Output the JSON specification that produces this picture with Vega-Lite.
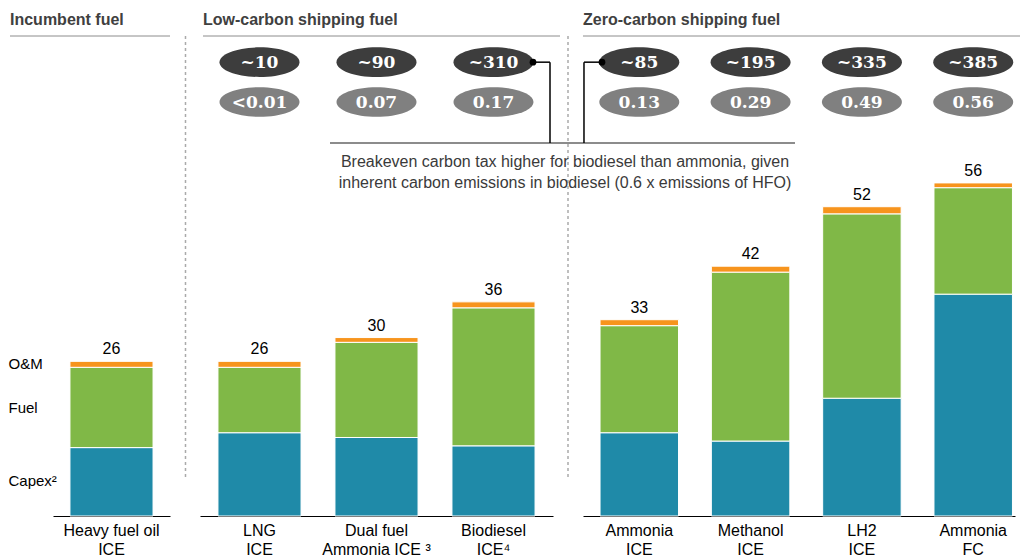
{
  "$schema": "https://vega.github.io/schema/vega-lite/v6.json",
  "padding": {"left": 8, "top": 12, "right": 0, "bottom": 0},
  "bounds": "flush",
  "spacing": 30,
  "config": {
    "view": {"stroke": null},
    "font": "Liberation Sans",
    "axisX": {"labelExpr": "split(datum.label, '\\n')", "labelAngle": 0, "ticks": false, "domainColor": "#000000", "domainWidth": 1, "labelFontSize": 16, "labelColor": "#000000", "labelPadding": 6, "labelLineHeight": 19, "labelBaseline": "top", "grid": false}
  },
  "datasets": {
    "costs": [
      {"group": "Incumbent", "cat": "Heavy fuel oil\nICE", "component": "Capex", "value": 11.5},
      {"group": "Incumbent", "cat": "Heavy fuel oil\nICE", "component": "Fuel", "value": 13.5},
      {"group": "Incumbent", "cat": "Heavy fuel oil\nICE", "component": "O&M", "value": 1},
      {"group": "Low", "cat": "LNG\nICE", "component": "Capex", "value": 14},
      {"group": "Low", "cat": "LNG\nICE", "component": "Fuel", "value": 11},
      {"group": "Low", "cat": "LNG\nICE", "component": "O&M", "value": 1},
      {"group": "Low", "cat": "Dual fuel\nAmmonia ICE ³", "component": "Capex", "value": 13.2},
      {"group": "Low", "cat": "Dual fuel\nAmmonia ICE ³", "component": "Fuel", "value": 16},
      {"group": "Low", "cat": "Dual fuel\nAmmonia ICE ³", "component": "O&M", "value": 0.8},
      {"group": "Low", "cat": "Biodiesel\nICE⁴", "component": "Capex", "value": 11.8},
      {"group": "Low", "cat": "Biodiesel\nICE⁴", "component": "Fuel", "value": 23.2},
      {"group": "Low", "cat": "Biodiesel\nICE⁴", "component": "O&M", "value": 1},
      {"group": "Zero", "cat": "Ammonia\nICE", "component": "Capex", "value": 14},
      {"group": "Zero", "cat": "Ammonia\nICE", "component": "Fuel", "value": 18},
      {"group": "Zero", "cat": "Ammonia\nICE", "component": "O&M", "value": 1},
      {"group": "Zero", "cat": "Methanol\nICE", "component": "Capex", "value": 12.6},
      {"group": "Zero", "cat": "Methanol\nICE", "component": "Fuel", "value": 28.4},
      {"group": "Zero", "cat": "Methanol\nICE", "component": "O&M", "value": 1},
      {"group": "Zero", "cat": "LH2\nICE", "component": "Capex", "value": 19.8},
      {"group": "Zero", "cat": "LH2\nICE", "component": "Fuel", "value": 31},
      {"group": "Zero", "cat": "LH2\nICE", "component": "O&M", "value": 1.2},
      {"group": "Zero", "cat": "Ammonia\nFC", "component": "Capex", "value": 37.3},
      {"group": "Zero", "cat": "Ammonia\nFC", "component": "Fuel", "value": 17.9},
      {"group": "Zero", "cat": "Ammonia\nFC", "component": "O&M", "value": 0.8}
    ],
    "cats": [
      {"group": "Incumbent", "cat": "Heavy fuel oil\nICE", "total": 26},
      {"group": "Low", "cat": "LNG\nICE", "total": 26, "tax": "~10", "cost": "<0.01"},
      {"group": "Low", "cat": "Dual fuel\nAmmonia ICE ³", "total": 30, "tax": "~90", "cost": "0.07"},
      {"group": "Low", "cat": "Biodiesel\nICE⁴", "total": 36, "tax": "~310", "cost": "0.17"},
      {"group": "Zero", "cat": "Ammonia\nICE", "total": 33, "tax": "~85", "cost": "0.13"},
      {"group": "Zero", "cat": "Methanol\nICE", "total": 42, "tax": "~195", "cost": "0.29"},
      {"group": "Zero", "cat": "LH2\nICE", "total": 52, "tax": "~335", "cost": "0.49"},
      {"group": "Zero", "cat": "Ammonia\nFC", "total": 56, "tax": "~385", "cost": "0.56"}
    ],
    "groups": [
      {"group": "Incumbent", "header": "Incumbent fuel"},
      {"group": "Low", "header": "Low-carbon shipping fuel", "note": "Breakeven carbon tax higher for biodiesel than ammonia, given\ninherent carbon emissions in biodiesel (0.6 x emissions of HFO)"},
      {"group": "Zero", "header": "Zero-carbon shipping fuel"}
    ]
  },
  "hconcat": [
    {
      "width": 117, "height": 480,
      "layer": [
        {
          "data": {"name": "costs"},
          "transform": [{"filter": "datum.group == 'Incumbent'"}],
          "mark": {"type": "bar", "stroke": "#ffffff", "strokeWidth": 1},
          "encoding": {
            "x": {"field": "cat", "type": "nominal", "sort": null, "scale": {"type": "band", "domain": ["Heavy fuel oil\nICE"], "paddingInner": 0.29, "paddingOuter": 0.145, "align": 0.5}, "axis": {"title": null}},
            "y": {"field": "value", "type": "quantitative", "stack": "zero", "scale": {"domain": [0, 80.7], "nice": false, "zero": true},
                  "axis": {"values": [5.9, 18.3, 25.6], "labelExpr": "datum.value > 22 ? 'O&M' : datum.value > 10 ? 'Fuel' : 'Capex²'", "labelAlign": "left", "labelPadding": 45, "ticks": false, "tickSize": 0, "domain": false, "grid": false, "title": null, "labelFontSize": 15, "labelColor": "#000000", "labelBaseline": "middle", "labelOverlap": false}},
            "color": {"field": "component", "type": "nominal", "scale": {"domain": ["Capex", "Fuel", "O&M"], "range": ["#1f8aa8", "#80b847", "#f7941d"]}, "legend": null},
            "order": {"field": "component", "sort": "ascending"}
          }
        },
        {
          "data": {"name": "cats"},
          "transform": [{"filter": "datum.group == 'Incumbent'"}],
          "mark": {"type": "text", "baseline": "bottom", "dy": -4, "fontSize": 16, "color": "#000000"},
          "encoding": {
            "x": {"field": "cat", "type": "nominal", "axis": {"title": null}},
            "y": {"field": "total", "type": "quantitative", "axis": {"title": null}},
            "text": {"field": "total"}
          }
        },
        {
          "data": {"name": "groups"},
          "transform": [{"filter": "datum.group == 'Incumbent'"}],
          "mark": {"type": "text", "align": "left", "baseline": "alphabetic", "dx": -101.5, "dy": -11, "fontSize": 16, "fontWeight": "bold", "color": "#404040"},
          "encoding": {
            "x": {"datum": "Heavy fuel oil\nICE", "axis": {"title": null}},
            "y": {"datum": 80.7, "axis": {"title": null}},
            "text": {"field": "header"}
          }
        },
        {
          "data": {"name": "groups"},
          "transform": [{"filter": "datum.group == 'Incumbent'"}],
          "mark": {"type": "rule", "color": "#8c8c8c", "strokeWidth": 1, "xOffset": -101.5, "x2Offset": 58.5},
          "encoding": {
            "x": {"datum": "Heavy fuel oil\nICE", "axis": {"title": null}},
            "x2": {"datum": "Heavy fuel oil\nICE"},
            "y": {"datum": 80.7, "axis": {"title": null}}
          }
        }
      ]
    },
    {
      "width": 353, "height": 480,
      "layer": [
        {
          "data": {"name": "costs"},
          "transform": [{"filter": "datum.group == 'Low'"}],
          "mark": {"type": "bar", "stroke": "#ffffff", "strokeWidth": 1},
          "encoding": {
            "x": {"field": "cat", "type": "nominal", "sort": null, "scale": {"type": "band", "domain": ["LNG\nICE", "Dual fuel\nAmmonia ICE ³", "Biodiesel\nICE⁴"], "paddingInner": 0.29, "paddingOuter": 0.1535, "align": 0.5}, "axis": {"title": null}},
            "y": {"field": "value", "type": "quantitative", "stack": "zero", "scale": {"domain": [0, 80.7], "nice": false, "zero": true}, "axis": null},
            "color": {"field": "component", "type": "nominal", "scale": {"domain": ["Capex", "Fuel", "O&M"], "range": ["#1f8aa8", "#80b847", "#f7941d"]}, "legend": null},
            "order": {"field": "component", "sort": "ascending"}
          }
        },
        {
          "data": {"name": "cats"},
          "transform": [{"filter": "datum.group == 'Low'"}],
          "mark": {"type": "text", "baseline": "bottom", "dy": -4, "fontSize": 16, "color": "#000000"},
          "encoding": {
            "x": {"field": "cat", "type": "nominal", "axis": {"title": null}},
            "y": {"field": "total", "type": "quantitative", "axis": null},
            "text": {"field": "total"}
          }
        },
        {
          "data": {"name": "cats"},
          "transform": [{"filter": "datum.group == 'Low'"}],
          "mark": {"type": "point", "shape": "M-1,0A1,0.37,0,1,1,1,0A1,0.37,0,1,1,-1,0Z", "filled": true, "size": 6400, "opacity": 1, "color": "#3d3d3d"},
          "encoding": {
            "x": {"field": "cat", "type": "nominal", "axis": {"title": null}},
            "y": {"datum": 76.3, "axis": null}
          }
        },
        {
          "data": {"name": "cats"},
          "transform": [{"filter": "datum.group == 'Low'"}],
          "mark": {"type": "point", "shape": "M-1,0A1,0.37,0,1,1,1,0A1,0.37,0,1,1,-1,0Z", "filled": true, "size": 6400, "opacity": 1, "color": "#808080"},
          "encoding": {
            "x": {"field": "cat", "type": "nominal", "axis": {"title": null}},
            "y": {"datum": 69.6, "axis": null}
          }
        },
        {
          "data": {"name": "cats"},
          "transform": [{"filter": "datum.group == 'Low'"}],
          "mark": {"type": "text", "baseline": "middle", "dy": 1, "font": "DejaVu Serif", "fontWeight": "bold", "fontSize": 17, "color": "#ffffff"},
          "encoding": {
            "x": {"field": "cat", "type": "nominal", "axis": {"title": null}},
            "y": {"datum": 76.3, "axis": null},
            "text": {"field": "tax"}
          }
        },
        {
          "data": {"name": "cats"},
          "transform": [{"filter": "datum.group == 'Low'"}],
          "mark": {"type": "text", "baseline": "middle", "dy": 1, "font": "DejaVu Serif", "fontWeight": "bold", "fontSize": 17, "color": "#ffffff"},
          "encoding": {
            "x": {"field": "cat", "type": "nominal", "axis": {"title": null}},
            "y": {"datum": 69.6, "axis": null},
            "text": {"field": "cost"}
          }
        },
        {
          "data": {"name": "groups"},
          "transform": [{"filter": "datum.group == 'Low'"}],
          "mark": {"type": "text", "align": "left", "baseline": "alphabetic", "dx": -56.5, "dy": -11, "fontSize": 16, "fontWeight": "bold", "color": "#404040"},
          "encoding": {
            "x": {"datum": "LNG\nICE", "axis": {"title": null}},
            "y": {"datum": 80.7, "axis": null},
            "text": {"field": "header"}
          }
        },
        {
          "data": {"name": "groups"},
          "transform": [{"filter": "datum.group == 'Low'"}],
          "mark": {"type": "rule", "color": "#8c8c8c", "strokeWidth": 1, "xOffset": -56.5, "x2Offset": 66.5},
          "encoding": {
            "x": {"datum": "LNG\nICE", "axis": {"title": null}},
            "x2": {"datum": "Biodiesel\nICE⁴"},
            "y": {"datum": 80.7, "axis": null}
          }
        },
        {
          "data": {"name": "groups"},
          "transform": [{"filter": "datum.group == 'Low'"}],
          "mark": {"type": "rule", "color": "#aaaaaa", "strokeWidth": 1.5, "strokeDash": [3, 3], "xOffset": -74},
          "encoding": {
            "x": {"datum": "LNG\nICE", "axis": {"title": null}},
            "y": {"datum": 80.7, "axis": null},
            "y2": {"datum": 6.2}
          }
        },
        {
          "data": {"name": "groups"},
          "transform": [{"filter": "datum.group == 'Low'"}],
          "mark": {"type": "rule", "color": "#aaaaaa", "strokeWidth": 1.5, "strokeDash": [3, 3], "xOffset": 74.5},
          "encoding": {
            "x": {"datum": "Biodiesel\nICE⁴", "axis": {"title": null}},
            "y": {"datum": 80.7, "axis": null},
            "y2": {"datum": 6.2}
          }
        },
        {
          "data": {"name": "groups"},
          "transform": [{"filter": "datum.group == 'Low'"}],
          "mark": {"type": "rule", "color": "#666666", "strokeWidth": 1.5, "xOffset": -46.5, "x2Offset": 89.5},
          "encoding": {
            "x": {"datum": "Dual fuel\nAmmonia ICE ³", "axis": {"title": null}},
            "x2": {"datum": "Biodiesel\nICE⁴"},
            "y": {"datum": 62.7, "axis": null}
          }
        },
        {
          "data": {"name": "groups"},
          "transform": [{"filter": "datum.group == 'Low'"}],
          "mark": {"type": "rule", "color": "#000000", "strokeWidth": 1.5, "xOffset": 39.5, "x2Offset": 56.5},
          "encoding": {
            "x": {"datum": "Biodiesel\nICE⁴", "axis": {"title": null}},
            "x2": {"datum": "Biodiesel\nICE⁴"},
            "y": {"datum": 76.3, "axis": null}
          }
        },
        {
          "data": {"name": "groups"},
          "transform": [{"filter": "datum.group == 'Low'"}],
          "mark": {"type": "rule", "color": "#000000", "strokeWidth": 1.5, "xOffset": 56.5},
          "encoding": {
            "x": {"datum": "Biodiesel\nICE⁴", "axis": {"title": null}},
            "y": {"datum": 76.3, "axis": null},
            "y2": {"datum": 62.7}
          }
        },
        {
          "data": {"name": "groups"},
          "transform": [{"filter": "datum.group == 'Low'"}],
          "mark": {"type": "point", "filled": true, "color": "#000000", "opacity": 1, "size": 45, "xOffset": 39.5},
          "encoding": {
            "x": {"datum": "Biodiesel\nICE⁴", "axis": {"title": null}},
            "y": {"datum": 76.3, "axis": null}
          }
        },
        {
          "data": {"name": "groups"},
          "transform": [{"filter": "datum.group == 'Low'"}],
          "mark": {"type": "text", "align": "center", "baseline": "top", "dx": 71.5, "dy": 11, "lineBreak": "\n", "lineHeight": 21, "fontSize": 16, "color": "#3a3a3a"},
          "encoding": {
            "x": {"datum": "Biodiesel\nICE⁴", "axis": {"title": null}},
            "y": {"datum": 62.7, "axis": null},
            "text": {"field": "note"}
          }
        }
      ]
    },
    {
      "width": 432, "height": 480,
      "layer": [
        {
          "data": {"name": "costs"},
          "transform": [{"filter": "datum.group == 'Zero'"}],
          "mark": {"type": "bar", "stroke": "#ffffff", "strokeWidth": 1},
          "encoding": {
            "x": {"field": "cat", "type": "nominal", "sort": null, "scale": {"type": "band", "domain": ["Ammonia\nICE", "Methanol\nICE", "LH2\nICE", "Ammonia\nFC"], "paddingInner": 0.295, "paddingOuter": 0.088, "align": 0.87}, "axis": {"title": null}},
            "y": {"field": "value", "type": "quantitative", "stack": "zero", "scale": {"domain": [0, 80.7], "nice": false, "zero": true}, "axis": null},
            "color": {"field": "component", "type": "nominal", "scale": {"domain": ["Capex", "Fuel", "O&M"], "range": ["#1f8aa8", "#80b847", "#f7941d"]}, "legend": null},
            "order": {"field": "component", "sort": "ascending"}
          }
        },
        {
          "data": {"name": "cats"},
          "transform": [{"filter": "datum.group == 'Zero'"}],
          "mark": {"type": "text", "baseline": "bottom", "dy": -4, "fontSize": 16, "color": "#000000"},
          "encoding": {
            "x": {"field": "cat", "type": "nominal", "axis": {"title": null}},
            "y": {"field": "total", "type": "quantitative", "axis": null},
            "text": {"field": "total"}
          }
        },
        {
          "data": {"name": "cats"},
          "transform": [{"filter": "datum.group == 'Zero'"}],
          "mark": {"type": "point", "shape": "M-1,0A1,0.37,0,1,1,1,0A1,0.37,0,1,1,-1,0Z", "filled": true, "size": 6400, "opacity": 1, "color": "#3d3d3d"},
          "encoding": {
            "x": {"field": "cat", "type": "nominal", "axis": {"title": null}},
            "y": {"datum": 76.3, "axis": null}
          }
        },
        {
          "data": {"name": "cats"},
          "transform": [{"filter": "datum.group == 'Zero'"}],
          "mark": {"type": "point", "shape": "M-1,0A1,0.37,0,1,1,1,0A1,0.37,0,1,1,-1,0Z", "filled": true, "size": 6400, "opacity": 1, "color": "#808080"},
          "encoding": {
            "x": {"field": "cat", "type": "nominal", "axis": {"title": null}},
            "y": {"datum": 69.6, "axis": null}
          }
        },
        {
          "data": {"name": "cats"},
          "transform": [{"filter": "datum.group == 'Zero'"}],
          "mark": {"type": "text", "baseline": "middle", "dy": 1, "font": "DejaVu Serif", "fontWeight": "bold", "fontSize": 17, "color": "#ffffff"},
          "encoding": {
            "x": {"field": "cat", "type": "nominal", "axis": {"title": null}},
            "y": {"datum": 76.3, "axis": null},
            "text": {"field": "tax"}
          }
        },
        {
          "data": {"name": "cats"},
          "transform": [{"filter": "datum.group == 'Zero'"}],
          "mark": {"type": "text", "baseline": "middle", "dy": 1, "font": "DejaVu Serif", "fontWeight": "bold", "fontSize": 17, "color": "#ffffff"},
          "encoding": {
            "x": {"field": "cat", "type": "nominal", "axis": {"title": null}},
            "y": {"datum": 69.6, "axis": null},
            "text": {"field": "cost"}
          }
        },
        {
          "data": {"name": "groups"},
          "transform": [{"filter": "datum.group == 'Zero'"}],
          "mark": {"type": "text", "align": "left", "baseline": "alphabetic", "dx": -56.3, "dy": -11, "fontSize": 16, "fontWeight": "bold", "color": "#404040"},
          "encoding": {
            "x": {"datum": "Ammonia\nICE", "axis": {"title": null}},
            "y": {"datum": 80.7, "axis": null},
            "text": {"field": "header"}
          }
        },
        {
          "data": {"name": "groups"},
          "transform": [{"filter": "datum.group == 'Zero'"}],
          "mark": {"type": "rule", "color": "#8c8c8c", "strokeWidth": 1, "xOffset": -56.3, "x2Offset": 46.8},
          "encoding": {
            "x": {"datum": "Ammonia\nICE", "axis": {"title": null}},
            "x2": {"datum": "Ammonia\nFC"},
            "y": {"datum": 80.7, "axis": null}
          }
        },
        {
          "data": {"name": "groups"},
          "transform": [{"filter": "datum.group == 'Zero'"}],
          "mark": {"type": "rule", "color": "#666666", "strokeWidth": 1.5, "xOffset": -56.3, "x2Offset": 44.4},
          "encoding": {
            "x": {"datum": "Ammonia\nICE", "axis": {"title": null}},
            "x2": {"datum": "Methanol\nICE"},
            "y": {"datum": 62.7, "axis": null}
          }
        },
        {
          "data": {"name": "groups"},
          "transform": [{"filter": "datum.group == 'Zero'"}],
          "mark": {"type": "rule", "color": "#000000", "strokeWidth": 1.5, "xOffset": -55.3, "x2Offset": -37.3},
          "encoding": {
            "x": {"datum": "Ammonia\nICE", "axis": {"title": null}},
            "x2": {"datum": "Ammonia\nICE"},
            "y": {"datum": 76.3, "axis": null}
          }
        },
        {
          "data": {"name": "groups"},
          "transform": [{"filter": "datum.group == 'Zero'"}],
          "mark": {"type": "rule", "color": "#000000", "strokeWidth": 1.5, "xOffset": -55.3},
          "encoding": {
            "x": {"datum": "Ammonia\nICE", "axis": {"title": null}},
            "y": {"datum": 76.3, "axis": null},
            "y2": {"datum": 62.7}
          }
        },
        {
          "data": {"name": "groups"},
          "transform": [{"filter": "datum.group == 'Zero'"}],
          "mark": {"type": "point", "filled": true, "color": "#000000", "opacity": 1, "size": 45, "xOffset": -37.3},
          "encoding": {
            "x": {"datum": "Ammonia\nICE", "axis": {"title": null}},
            "y": {"datum": 76.3, "axis": null}
          }
        }
      ]
    }
  ]
}
